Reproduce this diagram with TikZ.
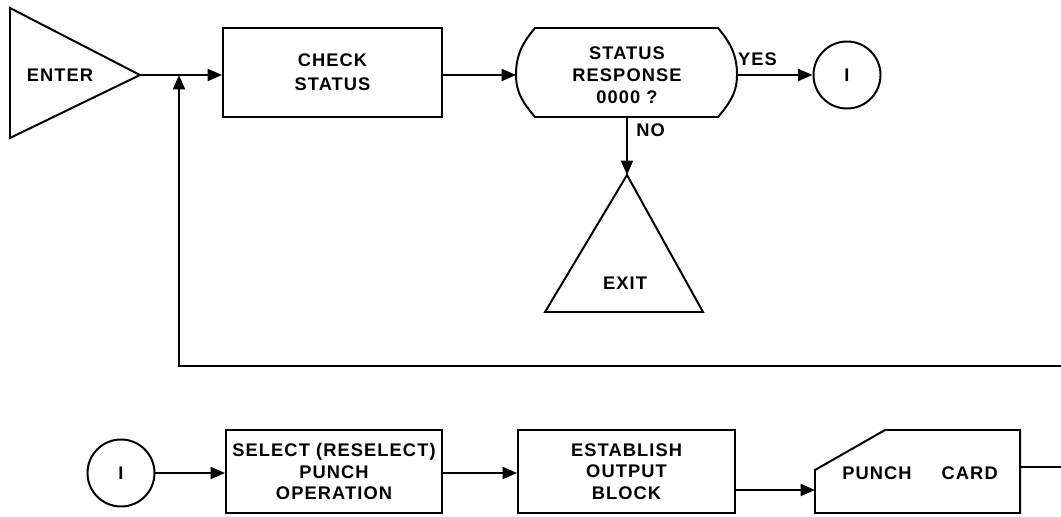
\documentclass[tikz,border=0pt]{standalone}
\usepackage{fontspec}
\setmainfont{Liberation Sans}[LetterSpace=6]
\usetikzlibrary{arrows.meta}
\begin{document}
\begin{tikzpicture}[x=0.25mm,y=-0.25mm,line width=1.4pt,
  font=\bfseries\fontsize{13}{15.5}\selectfont,
  arr/.style={-{Triangle[length=3.6mm,width=3mm]}},
  txt/.style={align=center,inner sep=0pt},
  box/.style={draw,rectangle,align=center,inner sep=0pt},
  conn/.style={draw,circle,inner sep=0pt,minimum size=16.75mm}]

\useasboundingbox (0,0) rectangle (1061,516);
\clip (0,0) rectangle (1061,516);

\draw (10,8) -- (10,138) -- (140,75) -- cycle;
\node[txt] (entertxt) at (60,75) {ENTER};
\coordinate (enter) at (140,75);
\coordinate (junc) at (179,75);

\node[box,minimum width=54.75mm,minimum height=22.25mm] (check) at (332.5,72.5)
  {CHECK\\[1.5pt]STATUS};

\draw (535,28) -- (718,28) to[out=-50,in=90] (737,75) to[out=-90,in=50] (718,117)
  -- (535,117) to[out=130,in=-90] (516,75) to[out=90,in=-130] cycle;
\node[txt] (status) at (627,75) {STATUS\\RESPONSE\\0000 ?};
\coordinate (statusW) at (516,75);
\coordinate (statusE) at (737,75);
\coordinate (statusS) at (627,117);

\node[conn] (one) at (847,75) {I};

\draw (627,175) -- (703,312) -- (545,312) -- cycle;
\node[txt] (exittxt) at (625,283) {EXIT};
\coordinate (exit) at (627,175);

\coordinate (loopR) at (1075,366);

\draw[arr] (enter) -- (check.west |- enter);
\draw[arr] (check.east |- statusW) -- (statusW);
\draw[arr] (statusE) -- (one) node[txt,pos=.27,above=6pt] (yes) {YES};
\draw[arr] (statusS) -- (exit) node[txt,pos=.22,right=6pt] (no) {NO};
\draw[arr] (loopR) -| (junc);

\node[conn] (one2) at (121,473) {I};
\node[box,minimum width=54mm,minimum height=20.75mm] (select) at (334,471.5)
  {SELECT (RESELECT)\\PUNCH\\OPERATION};
\node[box,minimum width=54.25mm,minimum height=20.75mm] (establish) at (626.5,471.5)
  {ESTABLISH\\OUTPUT\\BLOCK};

\draw (815,470) -- (885,430) -- (1020,430) -- (1020,513) -- (815,513) -- cycle;
\node[txt] (punch) at (920,473) {PUNCH\hspace{7.5mm}CARD};
\coordinate (punchW) at (815,490);
\coordinate (punchE) at (1020,467);
\coordinate (outR) at (1075,467);

\draw[arr] (one2) -- (one2 -| select.west);
\draw[arr] (select.east |- one2) -- (one2 -| establish.west);
\draw[arr] (establish.east |- punchW) -- (punchW);
\draw (punchE) -- (outR);
\end{tikzpicture}
\end{document}
